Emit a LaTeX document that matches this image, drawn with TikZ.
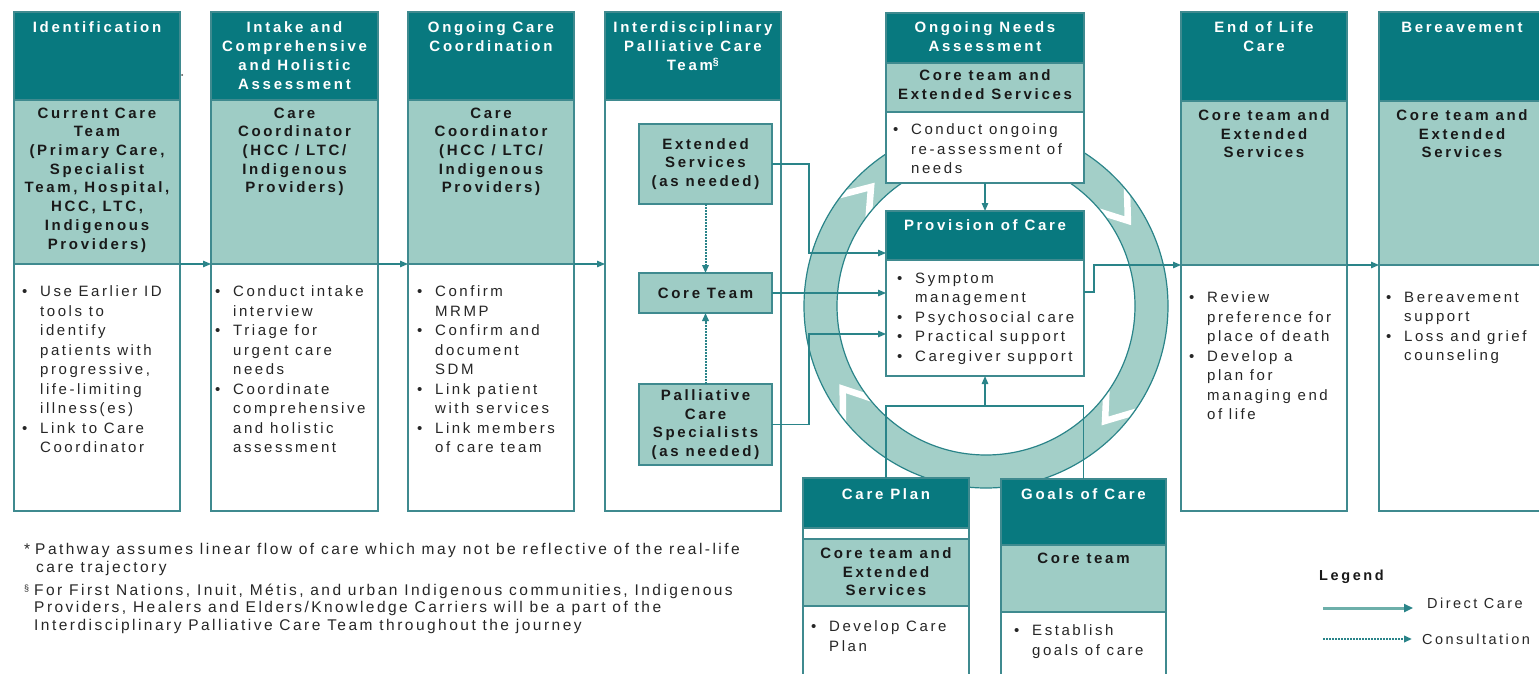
\documentclass[tikz,border=0pt]{standalone}
\usepackage{fontspec}
\setmainfont{Liberation Sans}
\newfontfamily\fLS{Liberation Sans}[LetterSpace=18]
\newfontfamily\fBS{Liberation Sans}[LetterSpace=17]
\newfontfamily\fFN{Liberation Sans}[LetterSpace=16]
\usetikzlibrary{arrows.meta,fit,calc}
\definecolor{tdark}{HTML}{08797F}
\definecolor{tlight}{HTML}{9ECCC5}
\definecolor{tborder}{HTML}{3F8A8F}
\definecolor{tline}{HTML}{2A8489}
\definecolor{txt}{HTML}{262626}
\definecolor{ringfill}{HTML}{A3CFC8}
\definecolor{legline}{HTML}{6DAFAA}
\newlength\bw
\setlength\bw{18pt}
\newcommand\bl{\makebox[\bw][l]{\textbullet}}
\newcommand\ci{\hspace*{\bw}}
\tikzset{
 box/.style={draw=tborder, line width=1.4pt, inner sep=0pt, outer sep=0pt},
 hbox/.style={box, fill=tdark},
 lbox/.style={box, fill=tlight},
 wbox/.style={box, fill=white},
 htext/.style={text=white, font=\fLS\bfseries\fontsize{15}{19}\selectfont, align=center, inner sep=0pt, anchor=north},
 ltext/.style={text=black!90, font=\fLS\bfseries\fontsize{15}{18.7}\selectfont, align=center, inner sep=0pt, anchor=north},
 btext/.style={text=txt, font=\fBS\fontsize{15}{19.5}\selectfont, align=left, inner sep=0pt, anchor=north west},
 conn/.style={draw=tline, line width=1.3pt, -{Triangle[length=8pt,width=6.5pt]}},
 plain/.style={draw=tline, line width=1.3pt},
 cons/.style={draw=tline, line width=2pt, densely dotted, -{Triangle[length=8pt,width=6.5pt]}},
 chev/.style={draw=white, line width=6.5pt, miter limit=10},
}
\begin{document}
\begin{tikzpicture}[x=1pt, y=-1pt]
\path[use as bounding box] (0,0) rectangle (1539,674);
\clip (0,0) rectangle (1539,674);

% ring
\coordinate (rc) at (986,306);
\path[fill=ringfill, draw=tline, line width=1.2pt, even odd rule] (rc) circle[radius=182pt] (rc) circle[radius=149pt];
\begin{scope}[even odd rule]
\clip (rc) circle[radius=181pt] (rc) circle[radius=150pt];
\foreach \a in {143,40,-35,-141}
  \draw[chev] ($(rc)+(\a:184pt)$) -- ($(rc)+(\a-9:165.5pt)$) -- ($(rc)+(\a:147pt)$);
\end{scope}

% column 1
\node[hbox, fit={(14,12)(180,100)}] (c1H) {};
\node[lbox, fit={(14,100)(180,264)}] (c1L) {};
\node[wbox, fit={(14,264)(180,511)}] (c1B) {};
\node[htext] (c1Ht) at (97,21.5) {Identification};
\node[ltext] (c1Lt) at (97,107.5) {Current Care\\Team\\(Primary Care,\\Specialist\\Team, Hospital,\\HCC, LTC,\\Indigenous\\Providers)};
\node[btext] (c1Bt) at (22,285.5) {\bl Use Earlier ID\\\ci tools to\\\ci identify\\\ci patients with\\\ci progressive,\\\ci life-limiting\\\ci illness(es)\\\bl Link to Care\\\ci Coordinator};
\node[circle, fill=black!70, inner sep=0pt, minimum size=2pt] (stray) at (182,75) {};

% column 2
\node[hbox, fit={(211,12)(378,100)}] (c2H) {};
\node[lbox, fit={(211,100)(378,264)}] (c2L) {};
\node[wbox, fit={(211,264)(378,511)}] (c2B) {};
\node[htext] (c2Ht) at (294.5,21.5) {Intake and\\Comprehensive\\and Holistic\\Assessment};
\node[ltext] (c2Lt) at (294.5,107.5) {Care\\Coordinator\\(HCC / LTC/\\Indigenous\\Providers)};
\node[btext] (c2Bt) at (215,285.5) {\bl Conduct intake\\\ci interview\\\bl Triage for\\\ci urgent care\\\ci needs\\\bl Coordinate\\\ci comprehensive\\\ci and holistic\\\ci assessment};

% column 3
\node[hbox, fit={(408,12)(574,100)}] (c3H) {};
\node[lbox, fit={(408,100)(574,264)}] (c3L) {};
\node[wbox, fit={(408,264)(574,511)}] (c3B) {};
\node[htext] (c3Ht) at (491,21.5) {Ongoing Care\\Coordination};
\node[ltext] (c3Lt) at (491,107.5) {Care\\Coordinator\\(HCC / LTC/\\Indigenous\\Providers)};
\node[btext] (c3Bt) at (417,285.5) {\bl Confirm\\\ci MRMP\\\bl Confirm and\\\ci document\\\ci SDM\\\bl Link patient\\\ci with services\\\bl Link members\\\ci of care team};

% column 4
\node[hbox, fit={(605,12)(781,100)}] (c4H) {};
\node[wbox, fit={(605,100)(781,511)}] (c4B) {};
\node[htext] (c4Ht) at (693,21.5) {Interdisciplinary\\Palliative Care\\Team\textsuperscript{\S}};
\node[lbox, fit={(639,124)(772,204)}] (ex) {};
\node[lbox, fit={(639,273)(772,313)}] (core) {};
\node[lbox, fit={(639,384)(772,465)}] (pal) {};
\node[ltext, anchor=center] (ext) at (ex.center) {Extended\\Services\\(as needed)};
\node[ltext, anchor=center] (coret) at (core.center) {Core Team};
\node[ltext, anchor=center] (palt) at (pal.center) {Palliative\\Care\\Specialists\\(as needed)};

% ongoing needs
\node[hbox, fit={(886,13)(1084,63)}] (ndH) {};
\node[lbox, fit={(886,63)(1084,112)}] (ndL) {};
\node[wbox, fit={(886,112)(1084,183)}] (ndB) {};
\node[htext] (ndHt) at (985,21.5) {Ongoing Needs\\Assessment};
\node[ltext] (ndLt) at (985,69.5) {Core team and\\Extended Services};
\node[btext] (ndBt) at (893,123.5) {\bl Conduct ongoing\\\ci re-assessment of\\\ci needs};

% provision
\node[hbox, fit={(886,211)(1084,260)}] (pvH) {};
\node[wbox, fit={(886,260)(1084,376)}] (pvB) {};
\node[htext] (pvHt) at (985,219.5) {Provision of Care};
\node[btext] (pvBt) at (897,272.5) {\bl Symptom\\\ci management\\\bl Psychosocial care\\\bl Practical support\\\bl Caregiver support};

% care plan
\node[hbox, fit={(803,478)(969,528)}] (cpH) {};
\node[wbox, fit={(803,528)(969,539)}] (cpS) {};
\node[lbox, fit={(803,539)(969,606)}] (cpL) {};
\node[wbox, fit={(803,606)(969,690)}] (cpB) {};
\node[htext] (cpHt) at (886,488.5) {Care Plan};
\node[ltext] (cpLt) at (886,547.5) {Core team and\\Extended\\Services};
\node[btext] (cpBt) at (811,620.5) {\bl Develop Care\\\ci Plan};

% goals of care
\node[hbox, fit={(1001,479)(1166,545)}] (gcH) {};
\node[lbox, fit={(1001,545)(1166,612)}] (gcL) {};
\node[wbox, fit={(1001,612)(1166,690)}] (gcB) {};
\node[htext] (gcHt) at (1083.5,488.5) {Goals of Care};
\node[ltext] (gcLt) at (1083.5,552.5) {Core team};
\node[btext] (gcBt) at (1014,624.5) {\bl Establish\\\ci goals of care};

% end of life
\node[hbox, fit={(1181,12)(1347,101)}] (eoH) {};
\node[lbox, fit={(1181,101)(1347,265)}] (eoL) {};
\node[wbox, fit={(1181,265)(1347,511)}] (eoB) {};
\node[htext] (eoHt) at (1264,21.5) {End of Life\\Care};
\node[ltext] (eoLt) at (1264,109.5) {Core team and\\Extended\\Services};
\node[btext] (eoBt) at (1189,291.5) {\bl Review\\\ci preference for\\\ci place of death\\\bl Develop a\\\ci plan for\\\ci managing end\\\ci of life};

% bereavement
\node[hbox, fit={(1379,12)(1545,101)}] (beH) {};
\node[lbox, fit={(1379,101)(1545,265)}] (beL) {};
\node[wbox, fit={(1379,265)(1545,511)}] (beB) {};
\node[htext] (beHt) at (1462,21.5) {Bereavement};
\node[ltext] (beLt) at (1462,109.5) {Core team and\\Extended\\Services};
\node[btext] (beBt) at (1386,291.5) {\bl Bereavement\\\ci support\\\bl Loss and grief\\\ci counseling};

% connectors
\draw[conn] (c1L.south east) -- (c2L.south west);
\draw[conn] (c2L.south east) -- (c3L.south west);
\draw[conn] (c3L.south east) -- (c3L.south east -| c4B.west);
\draw[conn] (eoL.south east) -- (beL.south west);
\coordinate (pvOut) at (pvB.east |- 0,292);
\draw[conn] (pvOut) -- ++(10,0) |- (eoL.south west);
\draw[conn] (ex.east) -- ++(37,0) |- (pvH.west |- 0,253);
\draw[conn] (core.east) -- (core.east -| pvB.west);
\draw[conn] (pal.east) -- ++(37,0) |- (pvB.west |- 0,334);
\draw[cons] (ex.south) -- (core.north);
\draw[cons] (pal.north) -- (core.south);
\draw[conn] (ndB.south) -- (pvH.north);
\coordinate (jn) at (pvB.south |- 0,406);
\draw[plain] (cpH.north) |- (jn) -| (gcH.north);
\draw[conn] (jn) -- (pvB.south);

% footnotes
\node[font=\fFN\fontsize{15.5}{17.5}\selectfont, text=txt, align=left, anchor=north west, inner sep=0pt] (fn1) at (24,543.5)
 {\makebox[9pt][l]{*}\hspace{2pt}Pathway assumes linear flow of care which may not be reflective of the real-life\\\hspace*{12pt}care trajectory};
\node[font=\fFN\fontsize{15.5}{17.5}\selectfont, text=txt, align=left, anchor=north west, inner sep=0pt] (fn2) at (24,583.5)
 {\makebox[10pt][l]{\raisebox{4pt}{\fontsize{9}{9}\selectfont\S}}For First Nations, Inuit, Métis, and urban Indigenous communities, Indigenous\\\hspace*{10pt}Providers, Healers and Elders/Knowledge Carriers will be a part of the\\\hspace*{10pt}Interdisciplinary Palliative Care Team throughout the journey};

% legend
\node[font=\fLS\bfseries\fontsize{14.5}{16}\selectfont, anchor=west, inner sep=0pt, text=black!90] (lgT) at (1319,577) {Legend};
\node[font=\fBS\fontsize{14.5}{16}\selectfont, anchor=west, inner sep=0pt, text=txt] (lgD) at (1427,603) {Direct Care};
\node[font=\fBS\fontsize{14.5}{16}\selectfont, anchor=west, inner sep=0pt, text=txt] (lgC) at (1422,639) {Consultation};
\coordinate (lgA) at (1323,608);
\coordinate (lgB) at (1323,639);
\draw[draw=legline, line width=3pt, -{Triangle[length=9pt,width=8pt,color=tline]}, shorten >=14pt] (lgA) -- (lgA -| lgD.west);
\draw[cons, shorten >=10pt] (lgB) -- (lgB -| lgC.west);
\end{tikzpicture}
\end{document}
